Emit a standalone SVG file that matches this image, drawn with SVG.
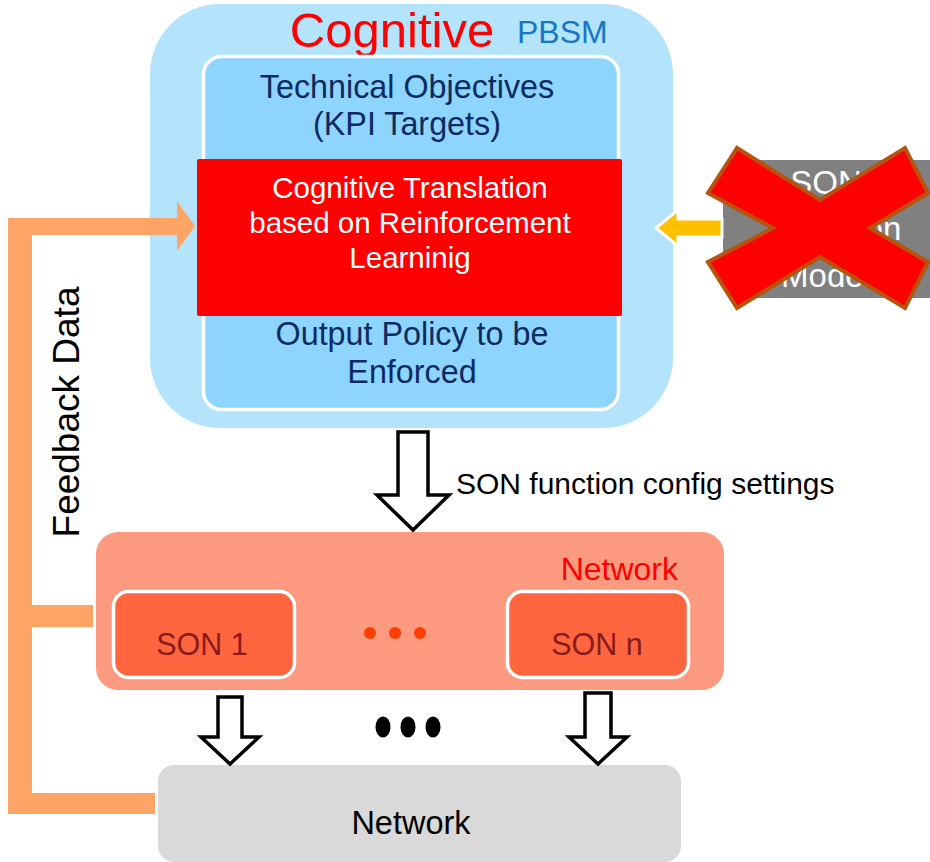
<svg xmlns="http://www.w3.org/2000/svg" width="930" height="862" viewBox="0 0 930 862">
<style>
text{font-family:"Liberation Sans",Arial,sans-serif}
.navy{fill:#0d2a63;font-size:32.3px;text-anchor:middle}
.white{fill:#ffffff;font-size:29.5px;text-anchor:middle}
.son{fill:#8b1a1a;font-size:30.5px;text-anchor:middle}
.blk{fill:#000000}
.fb{fill:#fea466}
.barrow{fill:#ffffff;stroke:#000000;stroke-width:3.5;stroke-linejoin:miter}
</style>
<rect width="930" height="862" fill="#ffffff"/>

<g id="son-model">
  <rect x="723" y="160" width="230" height="138" rx="22" fill="#808080"/>
  <text x="826" y="194" fill="#ffffff" font-size="33" text-anchor="middle">SON</text>
  <text x="838" y="240" fill="#ffffff" font-size="33" text-anchor="middle">Function</text>
  <text x="826" y="287" fill="#ffffff" font-size="33" text-anchor="middle">Model</text>
</g>

<g id="pbsm">
  <rect x="150" y="4" width="523" height="424" rx="70" fill="#b3e4fc"/>
  <text x="392" y="47" fill="#ff0000" font-size="49" text-anchor="middle">Cognitive</text>
  <text x="517" y="43" fill="#1677c6" font-size="32">PBSM</text>
  <rect x="203.5" y="56.5" width="415" height="353" rx="18" fill="#8dd5fc" stroke="#ffffff" stroke-width="3.5"/>
  <text class="navy" x="407" y="98">Technical Objectives</text>
  <text class="navy" x="407" y="135">(KPI Targets)</text>
  <text class="navy" x="412" y="345">Output Policy to be</text>
  <text class="navy" x="412" y="383">Enforced</text>
</g>

<g id="translation">
  <rect x="197" y="159" width="425" height="157" rx="2" fill="#ff0000"/>
  <text class="white" x="410" y="198">Cognitive Translation</text>
  <text class="white" x="410" y="233">based on Reinforcement</text>
  <text class="white" x="410" y="268">Learninig</text>
</g>

<g id="network-son">
  <rect x="96" y="532" width="628" height="158" rx="22" fill="#fe9a80"/>
  <text x="678" y="580" fill="#ff0000" font-size="32" text-anchor="end">Network</text>
  <rect x="113.5" y="591.5" width="181" height="86" rx="15" fill="#ff6640" stroke="#ffffff" stroke-width="3.5"/>
  <text class="son" x="202" y="655">SON 1</text>
  <rect x="507.5" y="591.5" width="181" height="86" rx="15" fill="#ff6640" stroke="#ffffff" stroke-width="3.5"/>
  <text class="son" x="597" y="655">SON n</text>
  <circle cx="370" cy="633" r="6" fill="#ff3d00"/>
  <circle cx="395" cy="633" r="6" fill="#ff3d00"/>
  <circle cx="420" cy="633" r="6" fill="#ff3d00"/>
</g>

<g id="network">
  <rect x="158" y="765" width="523" height="97" rx="16" fill="#d9d9d9"/>
  <text class="blk" x="411" y="834" text-anchor="middle" font-size="32.5">Network</text>
</g>

<g id="dots">
  <ellipse cx="383" cy="727" rx="7.5" ry="10.5" fill="#000000"/>
  <ellipse cx="408" cy="727" rx="7.5" ry="10.5" fill="#000000"/>
  <ellipse cx="433" cy="727" rx="7.5" ry="10.5" fill="#000000"/>
</g>

<g id="crossed-out">
  <polygon points="737,148 820,200 905,148 928,193 870,228 928,262 905,308 820,257 737,308 708,262 773,228 708,193" fill="#ff0000" stroke="#b8520c" stroke-width="4" stroke-linejoin="miter"/>
</g>

<g id="connectors">
  <polygon points="722,219 678,219 678,210 656,228 678,246 678,237 722,237" fill="#ffc000" stroke="#ffffff" stroke-width="3"/>
  <path class="fb" d="M8,218 H177 V201 L195,226 L177,251 V235 H32 V605 H93 V627 H32 V793 H155 V814 H8 Z"/>
  <polygon class="barrow" points="398,432 428,432 428,495 449,495 413,530 377,495 398,495"/>
  <polygon class="barrow" points="218,697 242,697 242,737 259,737 230,764 201,737 218,737"/>
  <polygon class="barrow" points="585,693 611,693 611,737 627,737 598,764 569,737 585,737"/>
  <text class="blk" x="456" y="494" font-size="30">SON function config settings</text>
  <text class="blk" transform="translate(79,412) rotate(-90)" text-anchor="middle" font-size="37">Feedback Data</text>
</g>
</svg>
